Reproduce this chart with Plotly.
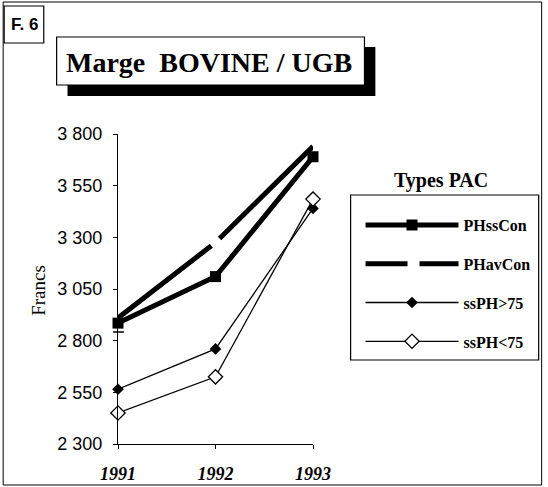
import plotly.graph_objects as go

years = [1991, 1992, 1993]
ph_ss_con = [2885, 3110, 3690]
ph_av_con = [2910, 3275, 3740]
ss_ph_gt75 = [2565, 2760, 3440]
ss_ph_lt75 = [2450, 2625, 3485]
y_ticks = [2300, 2550, 2800, 3050, 3300, 3550, 3800]
y_ticktext = ["2 300", "2 550", "2 800", "3 050", "3 300", "3 550", "3 800"]
x_ticktext = ["1991", "1992", "1993"]

W, H = 548, 487
L, R, T, B = 118, 315, 134, 444  # plot area in pixels


def xp(px):
    return (px - L) / (R - L)


def yp(py):
    return (B - py) / (B - T)


SERIF = "Liberation Serif, Times New Roman, serif"
SANS = "Liberation Sans, Arial, sans-serif"

fig = go.Figure()

fig.add_trace(go.Scatter(
    x=years, y=ph_ss_con, mode="lines+markers", name="<b>PHssCon</b>",
    line=dict(color="black", width=5),
    marker=dict(symbol="square", size=11, color="black"),
    legendgroup="a", cliponaxis=False))
fig.add_trace(go.Scatter(
    x=years, y=ph_av_con, mode="lines", name="PHavCon", showlegend=False,
    line=dict(color="black", width=5, dash="118px,11px,400px"),
    cliponaxis=False))
fig.add_trace(go.Scatter(
    x=[None], y=[None], mode="lines", name="<b>PHavCon</b>",
    line=dict(color="black", width=5, dash="42px,12px,60px"),
    legendgroup="b"))
fig.add_trace(go.Scatter(
    x=years, y=ss_ph_gt75, mode="lines+markers", name="<b>ssPH>75</b>",
    line=dict(color="black", width=1.3),
    marker=dict(symbol="diamond", size=9, color="black"),
    legendgroup="c", cliponaxis=False))
fig.add_trace(go.Scatter(
    x=years, y=ss_ph_lt75, mode="lines+markers", name="<b>ssPH<75</b>",
    line=dict(color="black", width=1.3),
    marker=dict(symbol="diamond", size=11, color="white",
                line=dict(color="black", width=1.3)),
    legendgroup="d", cliponaxis=False))

shapes = [
    # outer frame
    dict(type="rect", xref="paper", yref="paper", x0=xp(2), x1=xp(546), y0=yp(2), y1=yp(485),
         line=dict(color="black", width=1)),
    # F.6 box
    dict(type="rect", xref="paper", yref="paper", x0=xp(3), x1=xp(43), y0=yp(6), y1=yp(43),
         line=dict(color="black", width=1.2), fillcolor="white"),
    # title shadow
    dict(type="rect", xref="paper", yref="paper", x0=xp(67), x1=xp(378), y0=yp(47), y1=yp(96),
         line=dict(width=0), fillcolor="black"),
    # title box
    dict(type="rect", xref="paper", yref="paper", x0=xp(56), x1=xp(367), y0=yp(37), y1=yp(85),
         line=dict(color="black", width=1.2), fillcolor="white"),
    # legend box
    dict(type="rect", xref="paper", yref="paper", x0=xp(353), x1=xp(543), y0=yp(195), y1=yp(360),
         line=dict(color="black", width=1.2)),
    # axis break mark
    dict(type="line", xref="paper", yref="paper", x0=xp(113), x1=xp(124), y0=yp(332), y1=yp(332),
         line=dict(color="black", width=1.5)),
]

annotations = [
    dict(text="<b>F. 6</b>", x=xp(24), y=yp(24), xref="paper", yref="paper",
         showarrow=False, font=dict(family=SANS, size=17, color="black"),
         xanchor="center", yanchor="middle"),
    dict(text="<b>Marge\u00a0 BOVINE / UGB</b>", x=xp(210), y=yp(62), xref="paper", yref="paper",
         showarrow=False, font=dict(family=SERIF, size=28, color="black"),
         xanchor="center", yanchor="middle"),
    dict(text="<b>Types PAC</b>", x=xp(444), y=yp(180), xref="paper", yref="paper",
         showarrow=False, font=dict(family=SERIF, size=20, color="black"),
         xanchor="center", yanchor="middle"),
    dict(text="Francs", x=xp(37), y=yp(290), xref="paper", yref="paper",
         showarrow=False, textangle=-90, font=dict(family=SERIF, size=19, color="black"),
         xanchor="center", yanchor="middle"),
]

fig.update_layout(
    width=W, height=H,
    margin=dict(l=L, r=W - R, t=T, b=H - B, pad=0),
    paper_bgcolor="white", plot_bgcolor="white",
    shapes=shapes, annotations=annotations,
    showlegend=True,
    legend=dict(
        x=xp(363), y=yp(208), xanchor="left", yanchor="top",
        bgcolor="rgba(0,0,0,0)", borderwidth=0,
        itemwidth=93, traceorder="grouped", tracegroupgap=15,
        font=dict(family=SERIF, size=16, color="black"),
    ),
    xaxis=dict(
        range=[1991, 1993], tickvals=years, ticktext=x_ticktext,
        showline=True, linecolor="black", linewidth=1.3,
        ticks="outside", ticklen=4, tickcolor="black",
        showgrid=False, zeroline=False, automargin=False,
        ticklabelstandoff=9,
        tickfont=dict(family=SERIF, size=18, color="black", weight="bold", style="italic"),
    ),
    yaxis=dict(
        range=[2300, 3800], tickvals=y_ticks, ticktext=y_ticktext,
        showline=True, linecolor="black", linewidth=1.3,
        ticks="outside", ticklen=4, tickcolor="black",
        showgrid=False, zeroline=False, automargin=False,
        ticklabelstandoff=7,
        tickfont=dict(family=SANS, size=18, color="black"),
    ),
)

fig.write_html(
    "out.html",
    config={"displayModeBar": False},
    post_script="document.body.style.margin='0';document.body.style.overflow='hidden';",
)
